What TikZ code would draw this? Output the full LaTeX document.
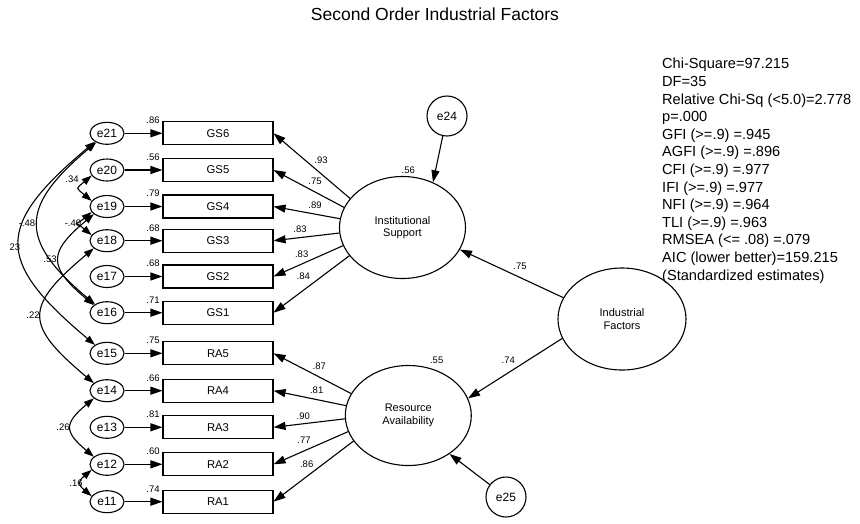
\documentclass[tikz,border=0pt]{standalone}
\usepackage{fontspec}
\setmainfont{Liberation Sans}
\usetikzlibrary{shapes.geometric,arrows.meta}

\begin{document}
\begin{tikzpicture}[x=1pt,y=1pt,
  link/.style={line width=1.1pt,-{Triangle[length=12pt,width=8pt]}},
  cov/.style={line width=1.1pt,{Triangle[length=10pt,width=7pt]}-{Triangle[length=10pt,width=7pt]}},
  errnode/.style={ellipse,draw,line width=1.1pt,minimum width=34pt,minimum height=22pt,inner sep=0pt,font=\fontsize{12}{14}\selectfont},
  obs/.style={rectangle,draw,line width=1.1pt,minimum width=110pt,minimum height=23pt,inner sep=0pt,font=\fontsize{11.3}{13}\selectfont},
  latent/.style={ellipse,draw,line width=1.1pt,inner sep=0pt,align=center,font=\fontsize{11}{12.7}\selectfont},
  disturb/.style={circle,draw,line width=1.1pt,minimum size=40pt,inner sep=0pt,font=\fontsize{12}{14}\selectfont},
  est/.style={inner sep=0pt,font=\fontsize{9.5}{11}\selectfont},
  stat/.style={anchor=base west,inner sep=0pt,font=\fontsize{14.6}{17.6}\selectfont}]

\useasboundingbox (0,0) rectangle (860,-523);
\fill[white] (0,0) rectangle (860,-523);

\node[anchor=base,inner sep=0pt,font=\fontsize{17.5}{20}\selectfont] (title) at (435,-20.5) {Second Order Industrial Factors};

% error terms, indicators and squared multiple correlations
\foreach \n/\b/\y/\r in {21/GS6/133.3/.86, 20/GS5/170/.56, 19/GS4/206.5/.79, 18/GS3/240.7/.68,
    17/GS2/276.5/.68, 16/GS1/312.7/.71, 15/RA5/353.3/.75, 14/RA4/390.7/.66,
    13/RA3/427.3/.81, 12/RA2/464.3/.60, 11/RA1/501.7/.74} {
  \node[errnode] (e\n) at (107,-\y) {e\n};
  \node[obs] (\b) at (218,-\y) {\b};
  \node[est] (r\b) at (153,{-\y+12.8}) {\r};
  \draw[link] (e\n) -- (\b);
}

% latent factors and disturbances
\node[latent,minimum width=126pt,minimum height=102pt] (IS) at (402.5,-227.5) {Institutional\\Support};
\node[latent,minimum width=126pt,minimum height=100pt] (RA) at (408.3,-415.5) {Resource\\Availability};
\node[latent,minimum width=128pt,minimum height=102pt] (IF) at (622,-319) {Industrial\\Factors};
\node[disturb] (e24) at (447,-116) {e24};
\node[disturb] (e25) at (506,-497) {e25};

% factor loadings
\foreach \b/\a/\lx/\ly/\v in {GS6/151/321/160/.93, GS5/161/315/181.7/.75, GS4/172/315/205/.89,
    GS3/185/300/229/.83, GS2/197/301.7/254/.83, GS1/208/303.3/276.7/.84} {
  \draw[link] (IS.\a) -- (\b.east);
  \node[est] (l\b) at (\lx,-\ly) {\v};
}
\foreach \b/\a/\lx/\ly/\v in {RA5/159/319.3/366.7/.87, RA4/171.5/316.7/390.7/.81, RA3/183/303.3/416/.90,
    RA2/195.6/304/440.7/.77, RA1/205/306.7/464/.86} {
  \draw[link] (RA.\a) -- (\b.east);
  \node[est] (l\b) at (\lx,-\ly) {\v};
}

% second order structure
\draw[link] (IF.160) -- (IS.-21);
\draw[link] (IF.198) -- (RA.16);
\draw[link] (e24) -- (IS.56);
\draw[link] (e25) -- (RA.-43);
\node[est] (gIS) at (520,-266.7) {.75};
\node[est] (gRA) at (508.3,-360) {.74};
\node[est] (sIS) at (408.3,-170) {.56};
\node[est] (sRA) at (436.7,-360) {.55};

% error covariances
\draw[cov] (e21.215) to[out=220,in=140,distance=131pt] (e15.145);
\draw[cov] (e21.220) to[out=220,in=140,distance=100pt] (e16.145);
\draw[cov] (e19.210) to[out=220,in=140,distance=60pt] (e16.150);
\draw[cov] (e18.210) to[out=220,in=140,distance=91pt] (e14.150);
\draw[cov] (e20.200) to[out=220,in=140,distance=21pt] (e19.160);
\draw[cov] (e19.200) to[out=220,in=140,distance=23pt] (e18.160);
\draw[cov] (e14.210) to[out=220,in=140,distance=39pt] (e12.150);
\draw[cov] (e12.200) to[out=220,in=140,distance=18pt] (e11.160);
\node[est] (c1) at (15,-247) {23};
\node[est] (c2) at (27,-223) {-.48};
\node[est] (c3) at (50,-259) {.53};
\node[est] (c4) at (33,-315) {.22};
\node[est] (c5) at (72,-179) {.34};
\node[est] (c6) at (73,-223) {-.40};
\node[est] (c7) at (63,-427) {.26};
\node[est] (c8) at (76,-483) {.16};

% fit statistics
\foreach \t [count=\i] in {{Chi-Square=97.215},{DF=35},{Relative Chi-Sq (<5.0)=2.778},{p=.000},
    {GFI (>=.9) =.945},{AGFI (>=.9) =.896},{CFI (>=.9) =.977},{IFI (>=.9) =.977},
    {NFI (>=.9) =.964},{TLI (>=.9) =.963},{RMSEA (<= .08) =.079},{AIC (lower better)=159.215},
    {(Standardized estimates)}} {
  \node[stat] (fit\i) at (662,{-68.8-17.6*(\i-1)}) {\t};
}
\end{tikzpicture}
\end{document}
